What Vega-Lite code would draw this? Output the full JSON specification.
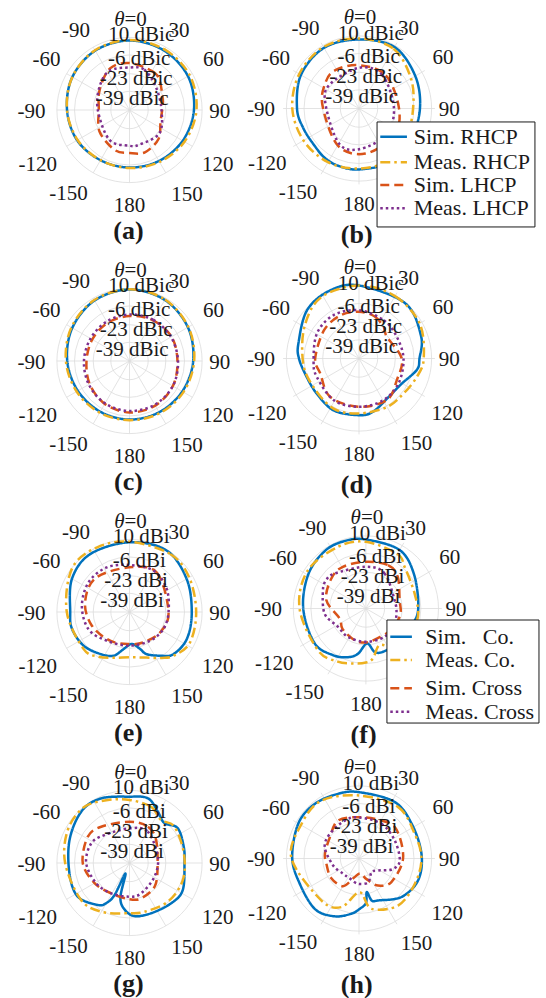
{
"$schema": "https://vega.github.io/schema/vega-lite/v6.json",
"padding": 0,
"background": "white",
"config": {"view": {"stroke": null}, "text": {"font": "Liberation Serif", "fill": "#1a1a1a"}},
"data": {"values": [
{"k":"ring","p":["a","b","c","d","e","f","g","h"],"rr":[17,33,50,66]},
{"k":"sp","p":["a","b","c","d","e","f","g","h"],"t":[0,30,60,90,120,150]},
{"k":"al","p":["a","b","c","d","e","f","g","h"],"t":[32,59,91,122,146,180,216,239,269,301,326],"lr":[85,89,82,94.5,93.6,87.3,94.5,97.3,89,88,87],"txt":["30","60","90","120","150","180","-150","-120","-90","-60","-90"]},
{"k":"th","p":["a","b","c","d","e","f","g","h"],"t":0,"lr":82},
{"k":"rl","p":["a","b","c","d"],"t":[8.9,10.7,12,13],"lr":[69,47.5,29,10.5],"txt":["10 dBic","-6 dBic","-23 dBic","-39 dBic"]},
{"k":"rl","p":["e","f","g","h"],"t":[8.9,10.7,12,13],"lr":[69,47.5,29,10.5],"txt":["10 dBi","-6 dBi","-23 dBi","-39 dBi"]},
{"k":"sub","p":["a"],"txt":"(a)"},{"k":"sub","p":["b"],"txt":"(b)"},{"k":"sub","p":["c"],"txt":"(c)"},{"k":"sub","p":["d"],"txt":"(d)"},
{"k":"sub","p":["e"],"txt":"(e)"},{"k":"sub","p":["f"],"txt":"(f)"},{"k":"sub","p":["g"],"txt":"(g)"},{"k":"sub","p":["h"],"txt":"(h)"},
{"k":"lbox","p":["b"],"x1":15.7,"x2":153,"y1":-11.7,"y2":-103},
{"k":"lbox","p":["f"],"x1":24.3,"x2":156.5,"y1":-10,"y2":-99.6},
{"k":"lg","p":["b"],"s":["SR","MR","SL","ML"],"txt":["Sim. RHCP","Meas. RHCP","Sim. LHCP","Meas. LHCP"],"ly":[-24.5,-46.8,-66.5,-86.8],"lx1":18.5,"lx2":41.7,"ltx":47.6},
{"k":"lg","p":["f"],"s":["SR","MR","SL","ML"],"txt":["Sim.\u00a0\u00a0\u00a0Co.","Meas. Co.","Sim. Cross","Meas. Cross"],"ly":[-24.5,-44.8,-69.4,-89.7],"lx1":27.2,"lx2":46,"ltx":57.7},

{"k":"c","p":["a"],"s":"SR","t":[0,30,60,90,120,150,180,210,240,270,300,330],"g":[7.2,6.5,5.4,2.6,-0.1,-2.5,-3.7,-3.3,-1.0,0.8,4.0,6.3]},
{"k":"c","p":["a"],"s":"MR","t":[0,30,60,90,120,150,180,210,240,270,300,330],"g":[7.6,7.6,7.2,4.9,1.7,-1.5,-3.3,-3.3,-1.5,0.8,4.0,6.7]},
{"k":"c","p":["a"],"s":"SL","t":[0,30,45,73,90,110,135,160,180,200,234,270,304,335],"g":[-13.3,-15.1,-17.5,-24.4,-26.3,-26,-18.7,-15.1,-16.9,-17.2,-22.4,-28.1,-23.3,-14.2]},
{"k":"c","p":["a"],"s":"ML","t":[0,20,49,90,128,164,180,214,270,308,333],"g":[-17.4,-16.9,-24.2,-26.9,-21.5,-23.3,-23.5,-23.3,-27.2,-21.5,-16]},

{"k":"c","p":["b"],"s":"SR","t":[0,30,60,90,120,150,180,200,215,230,250,270,300,330],"g":[4.0,5.7,0.5,-3.0,-3.8,-2.1,-3.0,-3.0,-3.8,-5.6,-4.7,-2.1,2.3,4.9]},
{"k":"c","p":["b"],"s":"MR","t":[0,30,60,90,120,150,180,210,240,270,300,330],"g":[4.9,4.0,-3.8,-9.0,-8.2,-3.8,-3.8,-2.1,-0.3,2.0,4.0,5.7]},
{"k":"c","p":["b"],"s":"SL","t":[0,39,90,127,172,210,275,309,329],"g":[-18.3,-18.9,-21.2,-17.7,-16.4,-19.0,-24.1,-18.9,-16.9]},
{"k":"c","p":["b"],"s":"ML","t":[0,35,90,135,180,210,275,308],"g":[-20.6,-20.6,-25.6,-23.2,-20.6,-21.0,-27.0,-23.0]},

{"k":"c","p":["c"],"s":"SR","t":[0,30,60,90,120,150,180,210,240,270,300,330],"g":[9.0,8.1,5.3,1.9,-0.6,-2.2,-2.8,-2.8,-1.8,0.6,4.1,7.5]},
{"k":"c","p":["c"],"s":"MR","t":[0,30,60,90,120,150,180,210,240,270,300,330],"g":[9.2,8.5,5.8,2.8,0.6,-1.2,-2.2,-1.8,-0.5,1.8,5.0,8.0]},
{"k":"c","p":["c"],"s":"SL","t":[0,30,60,90,120,150,180,210,240,270,300,330],"g":[-15.1,-13.3,-11.9,-12.4,-10.5,-9.2,-9.2,-11.0,-14.2,-16.9,-16.9,-16.0]},
{"k":"c","p":["c"],"s":"ML","t":[0,30,60,90,120,150,180,210,240,270,300,330],"g":[-13.7,-12.8,-12.4,-11.9,-10.5,-10.1,-10.5,-11.5,-13.3,-14.6,-15.1,-14.6]},

{"k":"c","p":["d"],"s":"SR","t":[0,40,70,90,101,121,142,165,180,206,230,251,270,284,313,337],"g":[7.5,6.6,1.4,-3.4,-4.7,-13,-13.8,-8.2,-6.7,-5.8,-8.2,-7.7,-3.8,-1.7,5.7,8.3]},
{"k":"c","p":["d"],"s":"MR","t":[0,30,60,90,107,128,150,180,207,238,265,300,328],"g":[7.5,6.6,4.9,0.3,-3.1,-6.7,-7.3,-8.2,-7.1,-9.3,-7.3,-1.2,6.6]},
{"k":"c","p":["d"],"s":"SL","t":[0,20,38,52,90,120,146,180,217,249,270,309,337],"g":[-15.4,-16.9,-21.2,-25.3,-18.8,-18.1,-12.5,-14,-14.3,-19.9,-17.9,-16.9,-15.1]},
{"k":"c","p":["d"],"s":"ML","t":[0,33,60,90,122,150,180,211,246,266,301,330],"g":[-14,-16.4,-18.1,-17.3,-15.4,-14,-14,-13.6,-16,-16.4,-13.4,-12.3]},

{"k":"c","p":["e"],"s":"SR","t":[0,31,60,90,115,134,145,158,164,176,189,200,215,234,254,270,300,326],"g":[7.4,9.3,4.0,0.6,1.6,-0.7,-7.5,-14.7,-21,-26.9,-21.9,-13.7,-9.5,-4.2,-1.5,-2.1,4.4,7.6]},
{"k":"c","p":["e"],"s":"MR","t":[0,35,60,90,117,135,145,160,180,200,215,231,270,307,333],"g":[7.9,8.4,6.7,4.6,5.6,0.4,-5,-11.9,-14.8,-11.7,-6.5,-2.4,1.0,9.5,9.8]},
{"k":"c","p":["e"],"s":"SL","t":[0,35,90,123,155,180,214,250,282,315],"g":[-15.4,-12.4,-20.5,-22.5,-25.6,-26.9,-24.5,-19.6,-14.7,-12.4]},
{"k":"c","p":["e"],"s":"ML","t":[0,30,58,90,117,144,180,218,247,277,306,333],"g":[-13.3,-12.5,-16.2,-20.5,-21.5,-23.9,-25.4,-22.8,-15.6,-12.4,-10.0,-10.5]},

{"k":"c","p":["f"],"s":"SR","t":[0,30,55,90,110,135,155,168,178,190,200,215,236,270,301,325,343],"g":[4.0,2.7,-4.8,-10.5,-13.5,-15.5,-15.5,-17,-25.6,-16,-11,-6.4,-2.1,-1.5,2.3,5.5,5.5]},
{"k":"c","p":["f"],"s":"MR","t":[0,30,43,73,99,125,145,160,172,180,192,208,229,270,303,336],"g":[2,-1.2,-6.6,-11.7,-10.2,-12,-16,-22,-12,-9,-7.1,-3.7,-0.7,1.7,4.4,2.9]},
{"k":"c","p":["f"],"s":"SL","t":[0,27,45,76,100,130,160,180,200,229,249,282,311,331],"g":[-15.4,-13.7,-16.9,-25.8,-25.6,-27.3,-28.2,-26.5,-26.8,-29,-31.6,-20.8,-16.2,-14.6]},
{"k":"c","p":["f"],"s":"ML","t":[0,28,74,100,120,147,180,212,237,263,293,305,318],"g":[-19.7,-21.5,-30,-29,-28,-26.5,-27,-26.8,-26.9,-19.8,-15.4,-13.6,-15.1]},

{"k":"c","p":["g"],"s":"SR","t":[0,16,29,41,54,73,90,117,134,157,175,187,195,201,205,210,217,237,260,291,317,336],"g":[4.3,5.1,-2.7,-7.8,-1.9,-4.5,-6,-1.7,-3.3,-6.3,-7.6,-14.2,-24.2,-45.8,-24,-14,-8.2,0.1,-0.6,2.4,8.1,8.2]},
{"k":"c","p":["g"],"s":"MR","t":[0,21,36,51,80,108,135,163,180,210,233,270,298,321,341],"g":[1.3,-1.2,-7.5,-3.5,-5.8,-5.1,-6.5,-9.6,-10.3,-4.8,-0.6,2.5,7.6,9.5,4.5]},
{"k":"c","p":["g"],"s":"SL","t":[0,27,49,97,133,162,180,211,240,270,302,322],"g":[-18.5,-19,-24,-30.3,-24.7,-22.2,-23,-23.8,-19.3,-13.5,-11.2,-14.2]},
{"k":"c","p":["g"],"s":"ML","t":[0,30,77,119,159,180,211,239,270,297,318],"g":[-24.5,-23,-29.6,-30.1,-26.5,-25.4,-23.8,-20.5,-16.6,-16.9,-21.9]},

{"k":"c","p":["h"],"s":"SR","t":[0,32,57,86,110,132,155,163,167,171,179,188,203,221,247,271,300,321,342],"g":[1.7,2.1,-1.2,-1.5,-1.2,-6.1,-15.8,-17.7,-26,-16.9,-12.3,-7.5,-1.4,2.3,0,2.1,4.9,5.1,3.1]},
{"k":"c","p":["h"],"s":"MR","t":[0,37,66,90,114,140,166,179,200,222,270,301,327],"g":[-1.2,0.2,-3,-1.7,-2.7,-2.8,-10.9,-26.7,-11,-7,2.7,2.3,4]},
{"k":"c","p":["h"],"s":"SL","t":[0,30,52,90,126,145,160,175,195,210,235,260,278,306,331],"g":[-20.1,-17.7,-14.8,-17.7,-21.2,-27.3,-36.9,-43,-38.6,-28.2,-26.4,-27.3,-26.1,-24.7,-18.3]},
{"k":"c","p":["h"],"s":"ML","t":[0,33,63,93,108,122,137,159,182,205,226,255,288,310,340],"g":[-20.3,-20.1,-21.2,-20.5,-25.6,-36.3,-39.9,-33.9,-34,-36.9,-36.9,-32.7,-24.7,-22.8,-20.7]}
]},
"transform": [{"flatten": ["p"], "as": ["panel"]}],
"spacing": 0,
"hconcat": [
{
"transform": [{"filter": {"field": "panel", "oneOf": ["a","c","e","g"]}}, {"calculate": "1", "as": "K"}, {"calculate": "0", "as": "cx"}],
"facet": {"row": {"field": "panel", "type": "nominal", "header": {"title": null, "labels": false}}},
"spacing": 0,
"bounds": "flush",
"spec": {
"width": 240, "height": 251,
"layer": [
{"transform": [{"filter": "datum.k=='ring'"}, {"flatten": ["rr"]}],
 "mark": {"type": "point", "shape": "circle", "filled": false, "stroke": "#dcdcdc", "strokeWidth": 0.8, "opacity": 1},
 "encoding": {"x": {"field": "cx", "type": "quantitative", "scale": {"domain": [-117.73, 100.45], "nice": false, "zero": false}, "axis": null},
  "y": {"datum": 0, "type": "quantitative", "scale": {"domain": [-128.18, 100], "nice": false, "zero": false}, "axis": null},
  "size": {"field": "rr", "type": "quantitative", "scale": {"type": "pow", "exponent": 2, "domain": [0, 66], "range": [0, 21083], "zero": true}, "legend": null}}},
{"transform": [{"filter": "datum.k=='sp'"}, {"flatten": ["t"]}, {"calculate": "datum.cx+66*sin(datum.t*PI/180)", "as": "x"}, {"calculate": "66*cos(datum.t*PI/180)", "as": "y"}, {"calculate": "2*datum.cx-datum.x", "as": "x2"}, {"calculate": "-datum.y", "as": "y2"}],
 "mark": {"type": "rule", "stroke": "#dcdcdc", "strokeWidth": 0.8},
 "encoding": {"x": {"field": "x", "type": "quantitative", "scale": {"domain": [-117.73, 100.45], "nice": false, "zero": false}, "axis": null},
  "y": {"field": "y", "type": "quantitative", "scale": {"domain": [-128.18, 100], "nice": false, "zero": false}, "axis": null},
  "x2": {"field": "x2"}, "y2": {"field": "y2"}}},
{"transform": [{"filter": "datum.k=='c'"}, {"flatten": ["t", "g"]}, {"calculate": "max(0, datum.g+56)", "as": "R"}, {"calculate": "datum.cx+datum.R*sin(datum.t*PI/180)", "as": "x"}, {"calculate": "datum.R*cos(datum.t*PI/180)", "as": "y"}],
 "mark": {"type": "line", "interpolate": "cardinal-closed", "strokeWidth": 2.5},
 "encoding": {"x": {"field": "x", "type": "quantitative", "scale": {"domain": [-117.73, 100.45], "nice": false, "zero": false}, "axis": null},
  "y": {"field": "y", "type": "quantitative", "scale": {"domain": [-128.18, 100], "nice": false, "zero": false}, "axis": null},
  "order": {"field": "t", "type": "quantitative"},
  "color": {"field": "s", "type": "nominal", "scale": {"domain": ["SR","MR","SL","ML"], "range": ["#0072BD","#EDB120","#D95319","#7E2F8E"]}, "legend": null},
  "strokeDash": {"field": "s", "type": "nominal", "scale": {"domain": ["SR","MR","SL","ML"], "range": [[1,0],[10,4,2.5,4],[9,5],[2.5,3]]}, "legend": null}}},
{"transform": [{"filter": "datum.k=='al'"}, {"flatten": ["t", "lr", "txt"]}, {"calculate": "datum.cx+datum.lr*datum.K*sin(datum.t*PI/180)", "as": "x"}, {"calculate": "datum.lr*datum.K*cos(datum.t*PI/180)", "as": "y"}],
 "mark": {"type": "text", "fontSize": 21, "align": "center", "baseline": "middle"},
 "encoding": {"x": {"field": "x", "type": "quantitative", "scale": {"domain": [-117.73, 100.45], "nice": false, "zero": false}, "axis": null},
  "y": {"field": "y", "type": "quantitative", "scale": {"domain": [-128.18, 100], "nice": false, "zero": false}, "axis": null},
  "text": {"field": "txt"}}},
{"transform": [{"filter": "datum.k=='th'"}, {"calculate": "datum.lr*datum.K", "as": "y"}],
 "mark": {"type": "text", "fontSize": 21, "align": "right", "baseline": "middle", "fontStyle": "italic", "text": "θ", "dx": -5},
 "encoding": {"x": {"field": "cx", "type": "quantitative", "scale": {"domain": [-117.73, 100.45], "nice": false, "zero": false}, "axis": null},
  "y": {"field": "y", "type": "quantitative", "scale": {"domain": [-128.18, 100], "nice": false, "zero": false}, "axis": null}}},
{"transform": [{"filter": "datum.k=='th'"}, {"calculate": "datum.lr*datum.K", "as": "y"}],
 "mark": {"type": "text", "fontSize": 21, "align": "left", "baseline": "middle", "text": "=0", "dx": -5},
 "encoding": {"x": {"field": "cx", "type": "quantitative", "scale": {"domain": [-117.73, 100.45], "nice": false, "zero": false}, "axis": null},
  "y": {"field": "y", "type": "quantitative", "scale": {"domain": [-128.18, 100], "nice": false, "zero": false}, "axis": null}}},
{"transform": [{"filter": "datum.k=='rl'"}, {"flatten": ["t", "lr", "txt"]}, {"calculate": "datum.cx+datum.lr*datum.K*sin(datum.t*PI/180)", "as": "x"}, {"calculate": "datum.lr*datum.K*cos(datum.t*PI/180)", "as": "y"}],
 "mark": {"type": "text", "fontSize": 21, "align": "center", "baseline": "middle"},
 "encoding": {"x": {"field": "x", "type": "quantitative", "scale": {"domain": [-117.73, 100.45], "nice": false, "zero": false}, "axis": null},
  "y": {"field": "y", "type": "quantitative", "scale": {"domain": [-128.18, 100], "nice": false, "zero": false}, "axis": null},
  "text": {"field": "txt"}}},
{"transform": [{"filter": "datum.k=='sub'"}, {"calculate": "datum.cx-1", "as": "sx"}],
 "mark": {"type": "text", "fontSize": 26, "fontWeight": "bold", "align": "center", "baseline": "middle"},
 "encoding": {"x": {"field": "sx", "type": "quantitative", "scale": {"domain": [-117.73, 100.45], "nice": false, "zero": false}, "axis": null},
  "y": {"datum": -110, "type": "quantitative", "scale": {"domain": [-128.18, 100], "nice": false, "zero": false}, "axis": null},
  "text": {"field": "txt"}}}
]}
},
{
"transform": [{"filter": {"field": "panel", "oneOf": ["b","d","f","h"]}}, {"calculate": "0.9565", "as": "K"}, {"calculate": "datum.panel=='f' ? 6 : 0", "as": "cx"}],
"facet": {"row": {"field": "panel", "type": "nominal", "header": {"title": null, "labels": false}}},
"spacing": 0,
"bounds": "flush",
"spec": {
"width": 230, "height": 250,
"layer": [
{"transform": [{"filter": "datum.k=='ring'"}, {"flatten": ["rr"]}],
 "mark": {"type": "point", "shape": "circle", "filled": false, "stroke": "#dcdcdc", "strokeWidth": 0.8, "opacity": 1},
 "encoding": {"x": {"field": "cx", "type": "quantitative", "scale": {"domain": [-103.48, 96.52], "nice": false, "zero": false}, "axis": null},
  "y": {"datum": 0, "type": "quantitative", "scale": {"domain": [-123.04, 94.35], "nice": false, "zero": false}, "axis": null},
  "size": {"field": "rr", "type": "quantitative", "scale": {"type": "pow", "exponent": 2, "domain": [0, 66], "range": [0, 23043], "zero": true}, "legend": null}}},
{"transform": [{"filter": "datum.k=='sp'"}, {"flatten": ["t"]}, {"calculate": "datum.cx+66*sin(datum.t*PI/180)", "as": "x"}, {"calculate": "66*cos(datum.t*PI/180)", "as": "y"}, {"calculate": "2*datum.cx-datum.x", "as": "x2"}, {"calculate": "-datum.y", "as": "y2"}],
 "mark": {"type": "rule", "stroke": "#dcdcdc", "strokeWidth": 0.8},
 "encoding": {"x": {"field": "x", "type": "quantitative", "scale": {"domain": [-103.48, 96.52], "nice": false, "zero": false}, "axis": null},
  "y": {"field": "y", "type": "quantitative", "scale": {"domain": [-123.04, 94.35], "nice": false, "zero": false}, "axis": null},
  "x2": {"field": "x2"}, "y2": {"field": "y2"}}},
{"transform": [{"filter": "datum.k=='c'"}, {"flatten": ["t", "g"]}, {"calculate": "max(0, datum.g+56)", "as": "R"}, {"calculate": "datum.cx+datum.R*sin(datum.t*PI/180)", "as": "x"}, {"calculate": "datum.R*cos(datum.t*PI/180)", "as": "y"}],
 "mark": {"type": "line", "interpolate": "cardinal-closed", "strokeWidth": 2.5},
 "encoding": {"x": {"field": "x", "type": "quantitative", "scale": {"domain": [-103.48, 96.52], "nice": false, "zero": false}, "axis": null},
  "y": {"field": "y", "type": "quantitative", "scale": {"domain": [-123.04, 94.35], "nice": false, "zero": false}, "axis": null},
  "order": {"field": "t", "type": "quantitative"},
  "color": {"field": "s", "type": "nominal", "scale": {"domain": ["SR","MR","SL","ML"], "range": ["#0072BD","#EDB120","#D95319","#7E2F8E"]}, "legend": null},
  "strokeDash": {"field": "s", "type": "nominal", "scale": {"domain": ["SR","MR","SL","ML"], "range": [[1,0],[10,4,2.5,4],[9,5],[2.5,3]]}, "legend": null}}},
{"transform": [{"filter": "datum.k=='al'"}, {"flatten": ["t", "lr", "txt"]}, {"calculate": "datum.cx+datum.lr*datum.K*sin(datum.t*PI/180)", "as": "x"}, {"calculate": "datum.lr*datum.K*cos(datum.t*PI/180)", "as": "y"}],
 "mark": {"type": "text", "fontSize": 21, "align": "center", "baseline": "middle"},
 "encoding": {"x": {"field": "x", "type": "quantitative", "scale": {"domain": [-103.48, 96.52], "nice": false, "zero": false}, "axis": null},
  "y": {"field": "y", "type": "quantitative", "scale": {"domain": [-123.04, 94.35], "nice": false, "zero": false}, "axis": null},
  "text": {"field": "txt"}}},
{"transform": [{"filter": "datum.k=='th'"}, {"calculate": "datum.lr*datum.K", "as": "y"}],
 "mark": {"type": "text", "fontSize": 21, "align": "right", "baseline": "middle", "fontStyle": "italic", "text": "θ", "dx": -5},
 "encoding": {"x": {"field": "cx", "type": "quantitative", "scale": {"domain": [-103.48, 96.52], "nice": false, "zero": false}, "axis": null},
  "y": {"field": "y", "type": "quantitative", "scale": {"domain": [-123.04, 94.35], "nice": false, "zero": false}, "axis": null}}},
{"transform": [{"filter": "datum.k=='th'"}, {"calculate": "datum.lr*datum.K", "as": "y"}],
 "mark": {"type": "text", "fontSize": 21, "align": "left", "baseline": "middle", "text": "=0", "dx": -5},
 "encoding": {"x": {"field": "cx", "type": "quantitative", "scale": {"domain": [-103.48, 96.52], "nice": false, "zero": false}, "axis": null},
  "y": {"field": "y", "type": "quantitative", "scale": {"domain": [-123.04, 94.35], "nice": false, "zero": false}, "axis": null}}},
{"transform": [{"filter": "datum.k=='rl'"}, {"flatten": ["t", "lr", "txt"]}, {"calculate": "datum.cx+datum.lr*datum.K*sin(datum.t*PI/180)", "as": "x"}, {"calculate": "datum.lr*datum.K*cos(datum.t*PI/180)", "as": "y"}],
 "mark": {"type": "text", "fontSize": 21, "align": "center", "baseline": "middle"},
 "encoding": {"x": {"field": "x", "type": "quantitative", "scale": {"domain": [-103.48, 96.52], "nice": false, "zero": false}, "axis": null},
  "y": {"field": "y", "type": "quantitative", "scale": {"domain": [-123.04, 94.35], "nice": false, "zero": false}, "axis": null},
  "text": {"field": "txt"}}},
{"transform": [{"filter": "datum.k=='sub'"}, {"calculate": "datum.cx-2", "as": "sx"}],
 "mark": {"type": "text", "fontSize": 26, "fontWeight": "bold", "align": "center", "baseline": "middle"},
 "encoding": {"x": {"field": "sx", "type": "quantitative", "scale": {"domain": [-103.48, 96.52], "nice": false, "zero": false}, "axis": null},
  "y": {"datum": -110, "type": "quantitative", "scale": {"domain": [-123.04, 94.35], "nice": false, "zero": false}, "axis": null},
  "text": {"field": "txt"}}},
{"transform": [{"filter": "datum.k=='lbox'"}],
 "mark": {"type": "rect", "fill": "white", "stroke": "#1a1a1a", "strokeWidth": 1},
 "encoding": {"x": {"field": "x1", "type": "quantitative", "scale": {"domain": [-103.48, 96.52], "nice": false, "zero": false}, "axis": null},
  "x2": {"field": "x2"},
  "y": {"field": "y1", "type": "quantitative", "scale": {"domain": [-123.04, 94.35], "nice": false, "zero": false}, "axis": null},
  "y2": {"field": "y2"}}},
{"transform": [{"filter": "datum.k=='lg'"}, {"flatten": ["s", "txt", "ly"]}],
 "mark": {"type": "rule", "strokeWidth": 2.5},
 "encoding": {"x": {"field": "lx1", "type": "quantitative", "scale": {"domain": [-103.48, 96.52], "nice": false, "zero": false}, "axis": null},
  "x2": {"field": "lx2"},
  "y": {"field": "ly", "type": "quantitative", "scale": {"domain": [-123.04, 94.35], "nice": false, "zero": false}, "axis": null},
  "color": {"field": "s", "type": "nominal", "scale": {"domain": ["SR","MR","SL","ML"], "range": ["#0072BD","#EDB120","#D95319","#7E2F8E"]}, "legend": null},
  "strokeDash": {"field": "s", "type": "nominal", "scale": {"domain": ["SR","MR","SL","ML"], "range": [[1,0],[10,4,2.5,4],[9,5],[2.5,3]]}, "legend": null}}},
{"transform": [{"filter": "datum.k=='lg'"}, {"flatten": ["s", "txt", "ly"]}],
 "mark": {"type": "text", "fontSize": 22, "align": "left", "baseline": "middle"},
 "encoding": {"x": {"field": "ltx", "type": "quantitative", "scale": {"domain": [-103.48, 96.52], "nice": false, "zero": false}, "axis": null},
  "y": {"field": "ly", "type": "quantitative", "scale": {"domain": [-123.04, 94.35], "nice": false, "zero": false}, "axis": null},
  "text": {"field": "txt"}}}
]}
}
]
}
